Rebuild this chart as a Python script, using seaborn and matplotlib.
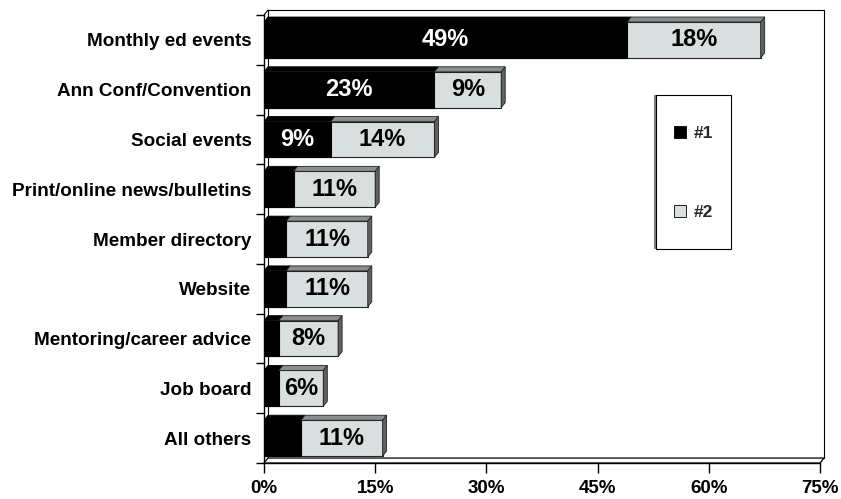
import matplotlib
matplotlib.use('Agg')
import matplotlib.pyplot as plt
from matplotlib.patches import Polygon, Rectangle, Patch
import seaborn as sns
import pandas as pd

# Data
categories = [
    'Monthly ed events',
    'Ann Conf/Convention',
    'Social events',
    'Print/online news/bulletins',
    'Member directory',
    'Website',
    'Mentoring/career advice',
    'Job board',
    'All others',
]
first_pct = [49, 23, 9, 4, 3, 3, 2, 2, 5]       # ranked #1
second_pct = [18, 9, 14, 11, 11, 11, 8, 6, 11]  # ranked #2
x_ticks = [0, 15, 30, 45, 60, 75]
legend_labels = ['#1', '#2']

BLACK = '#000000'
LIGHT = '#D9DFDF'
TOP_GREY = '#8C8E8E'
SIDE_GREY = '#5E6262'

sns.set_theme(style='white')
plt.rcParams['font.family'] = ['Liberation Sans', 'DejaVu Sans']
plt.rcParams['font.weight'] = 'bold'

df = pd.DataFrame({'item': categories, 'first': first_pct, 'second': second_pct})
df['total'] = df['first'] + df['second']

fig = plt.figure(figsize=(8.41, 4.99), dpi=100)
ax = fig.add_axes([0.3139, 0.0721, 0.6611, 0.8978])

BAR_W = 0.72
# stacked look: total in light grey, then #1 in black on top
sns.barplot(data=df, x='total', y='item', orient='h', color=LIGHT, width=BAR_W,
            saturation=1, errorbar=None, edgecolor='#222222', linewidth=0.8, ax=ax)
sns.barplot(data=df, x='first', y='item', orient='h', color=BLACK, width=BAR_W,
            saturation=1, errorbar=None, edgecolor=BLACK, linewidth=0.8, ax=ax)

n = len(categories)
ax.set_xlim(0, 75)
ax.set_ylim(n - 0.5, -0.5)

# fake 3D depth, offsets in data units (~4px right, ~5px up)
dx, dy = 0.54, 0.10
bars = list(ax.patches)
grey_bars, black_bars = bars[:n], bars[n:2 * n]
for i, (g, k) in enumerate(zip(grey_bars, black_bars)):
    top = g.get_y()
    bot = top + g.get_height()
    t = g.get_width()
    b = k.get_width()
    ax.add_patch(Polygon([(0, top), (b, top), (b + dx, top - dy), (dx, top - dy)],
                         closed=True, fc=BLACK, ec=BLACK, lw=0.6, zorder=1.5))
    ax.add_patch(Polygon([(b, top), (t, top), (t + dx, top - dy), (b + dx, top - dy)],
                         closed=True, fc=TOP_GREY, ec='#222222', lw=0.6, zorder=1.5))
    ax.add_patch(Polygon([(t, top), (t + dx, top - dy), (t + dx, bot - dy), (t, bot)],
                         closed=True, fc=SIDE_GREY, ec='#222222', lw=0.6, zorder=1.5))

    yc = top + g.get_height() / 2
    ax.text(b + (t - b) / 2, yc, f'{second_pct[i]}%', ha='center', va='center',
            fontsize=17, color='black', zorder=3)
    if first_pct[i] >= 9:
        ax.text(b / 2, yc, f'{first_pct[i]}%', ha='center', va='center',
                fontsize=17, color='white', zorder=3)

# back wall + floor
y_top, y_bot = -0.5, n - 0.5
ax.add_patch(Polygon([(0, y_bot), (75, y_bot), (75 + dx, y_bot - dy), (dx, y_bot - dy)],
                     closed=True, fc='white', ec='black', lw=0.9, clip_on=False, zorder=0.6))
ax.plot([dx, dx, 75 + dx, 75 + dx], [y_bot - dy, y_top - dy, y_top - dy, y_bot - dy],
        color='black', lw=0.8, clip_on=False, zorder=0.5)
ax.plot([0, dx], [y_top, y_top - dy], color='black', lw=0.8, clip_on=False, zorder=0.5)

# axes styling
for side in ['top', 'right']:
    ax.spines[side].set_visible(False)
for side in ['left', 'bottom']:
    ax.spines[side].set_color('black')
    ax.spines[side].set_linewidth(1.0)
    ax.spines[side].set_zorder(4)

ax.set_xticks(x_ticks)
ax.set_xticklabels([f'{v}%' for v in x_ticks])
ax.set_yticks([i - 0.5 for i in range(n + 1)], minor=True)
ax.tick_params(axis='x', bottom=True, length=7, width=1, color='black',
               direction='out', labelsize=13.5, pad=5, labelcolor='black')
ax.tick_params(axis='y', which='major', left=True, length=0, pad=9,
               labelsize=13.6, labelcolor='black')
ax.tick_params(axis='y', which='minor', left=True, length=6, width=1,
               color='black', direction='out')
ax.set_xlabel('')
ax.set_ylabel('')

# legend box
bx0, by0, bw, bh = 656 / 841, 1 - 249 / 499, 75 / 841, 154 / 499
fig.add_artist(Rectangle((bx0 - 2 / 841, by0), bw, bh, transform=fig.transFigure,
                         fc='#808080', ec='none', zorder=1))
fig.add_artist(Rectangle((bx0, by0), bw, bh, transform=fig.transFigure,
                         fc='white', ec='black', lw=0.8, zorder=1.1))
handles = [Patch(fc=BLACK, ec='black', lw=0.6), Patch(fc=LIGHT, ec='black', lw=0.6)]
fig.legend(handles, legend_labels, loc='center',
           bbox_to_anchor=(bx0 + bw / 2, by0 + bh / 2 - 1 / 499), frameon=False,
           fontsize=12.5, labelspacing=3.7, handlelength=0.7, handleheight=0.7,
           handletextpad=0.4)

fig.savefig('out.png', dpi=100)
